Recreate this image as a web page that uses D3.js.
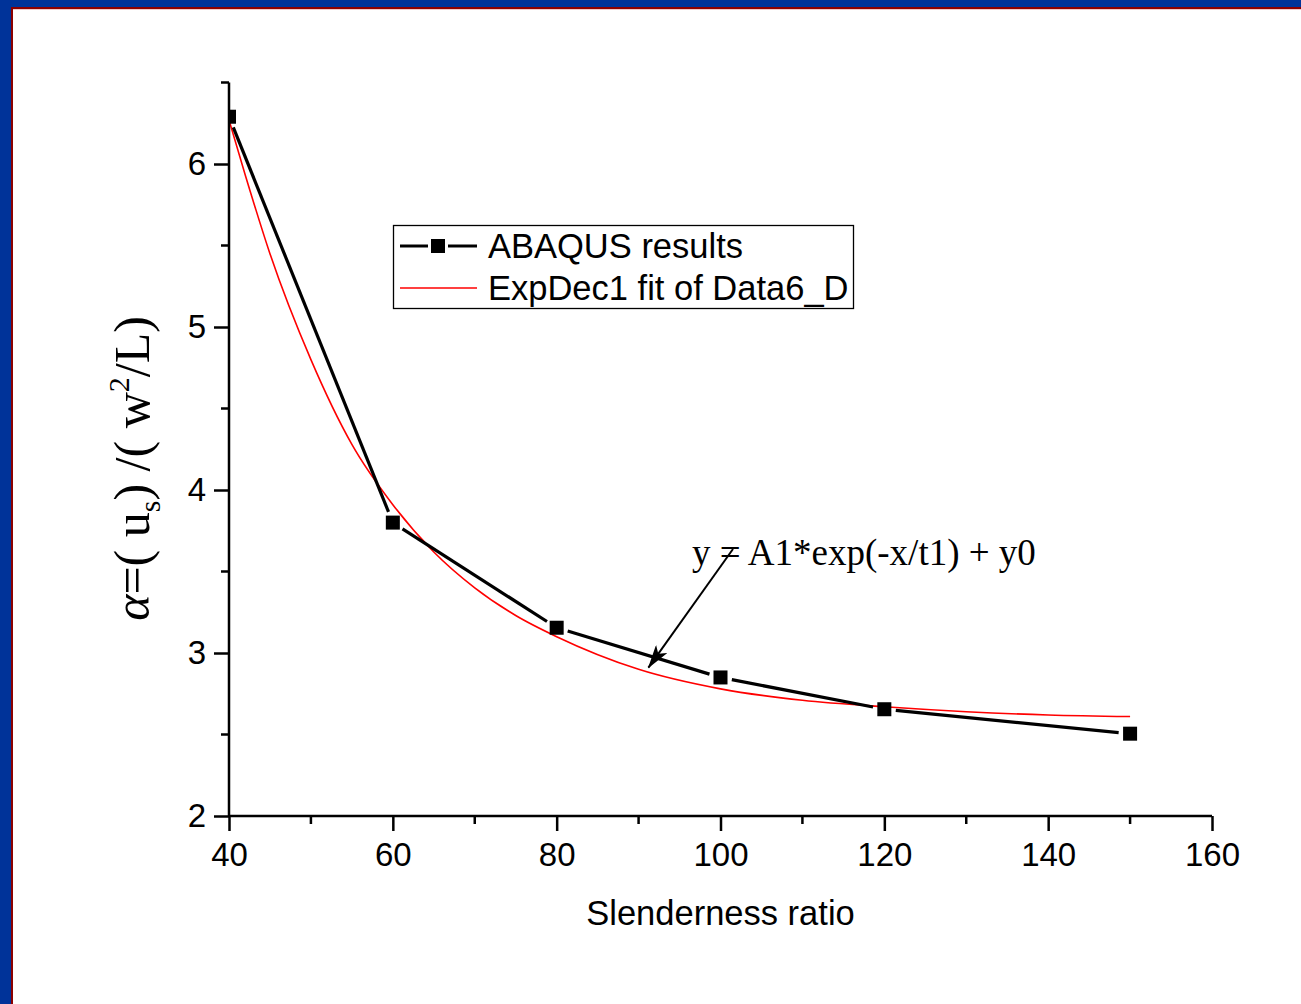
<!DOCTYPE html>
<html>
<head>
<meta charset="utf-8">
<script src="https://cdn.jsdelivr.net/npm/d3@7/dist/d3.min.js"></script>
<style>
  html, body { margin: 0; padding: 0; background: #fff; }
  svg { display: block; }
</style>
</head>
<body>
<svg id="chart" width="1301" height="1004"></svg>
<script>
// ABAQUS results: slenderness ratio vs. alpha
const slenderness = [40, 60, 80, 100, 120, 150];
const alphaValues = [6.29, 3.80, 3.155, 2.85, 2.655, 2.505];

// Exponential-decay fit curve, sampled along the slenderness axis
const fitX = [40, 42, 45, 50, 55, 60, 65, 70, 75, 80, 90, 100, 110, 120, 130, 140, 150];
const fitY = [6.27, 5.93, 5.45, 4.80, 4.28, 3.91, 3.62, 3.40, 3.23, 3.10, 2.90, 2.78, 2.71, 2.67, 2.64, 2.62, 2.61];

// Axis ticks
const xMajorTicks = [40, 60, 80, 100, 120, 140, 160];
const xMinorTicks = [50, 70, 90, 110, 130, 150];
const yMajorTicks = [2, 3, 4, 5, 6];
const yMinorTicks = [2.5, 3.5, 4.5, 5.5, 6.5];

const legendLabels = ["ABAQUS results", "ExpDec1 fit of Data6_D"];
const fitEquation = "y = A1*exp(-x/t1) + y0";
const xTitle = "Slenderness ratio";

const svg = d3.select("#chart");
const W = 1301, H = 1004;

// page frame
svg.append("rect").attr("width", W).attr("height", H).attr("fill", "#003399");
svg.append("rect").attr("x", 11).attr("y", 7).attr("width", W - 11).attr("height", H - 7).attr("fill", "#8b0000");
svg.append("rect").attr("x", 13).attr("y", 9).attr("width", W - 13).attr("height", H - 9).attr("fill", "#f3c8c8");
svg.append("rect").attr("x", 13).attr("y", 10).attr("width", W - 13).attr("height", H - 10).attr("fill", "#ffffff");

const x = d3.scaleLinear().domain([40, 160]).range([229, 1212]);
const y = d3.scaleLinear().domain([2, 6.5]).range([816, 82.5]);

const sans = "'Liberation Sans', Arial, Helvetica, sans-serif";
const serif = "'Liberation Serif', 'Times New Roman', Times, serif";

// clip for the plotting area
svg.append("defs").append("clipPath").attr("id", "plotClip")
  .append("rect")
  .attr("x", x(40)).attr("y", y(6.5) - 20)
  .attr("width", x(160) - x(40)).attr("height", y(2) - y(6.5) + 20);

const plot = svg.append("g").attr("clip-path", "url(#plotClip)");

// fit curve
const fitPts = fitX.map((v, i) => [v, fitY[i]]);
plot.append("path")
  .datum(fitPts)
  .attr("fill", "none")
  .attr("stroke", "#ff0000")
  .attr("stroke-width", 1.6)
  .attr("d", d3.line().x(d => x(d[0])).y(d => y(d[1])).curve(d3.curveMonotoneX));

// data line: segments between markers, leaving a small gap around each symbol
const pts = slenderness.map((v, i) => [x(v), y(alphaValues[i])]);
const gap = 11.5;
const segs = d3.pairs(pts).map(([a, b]) => {
  const dx = b[0] - a[0], dy = b[1] - a[1];
  const len = Math.hypot(dx, dy);
  const ux = dx / len, uy = dy / len;
  return [a[0] + ux * gap, a[1] + uy * gap, b[0] - ux * gap, b[1] - uy * gap];
});
plot.selectAll("line.seg").data(segs).join("line")
  .attr("class", "seg")
  .attr("x1", d => d[0]).attr("y1", d => d[1])
  .attr("x2", d => d[2]).attr("y2", d => d[3])
  .attr("stroke", "#000").attr("stroke-width", 3.2);

const ms = 14;
plot.selectAll("rect.mk").data(slenderness).join("rect")
  .attr("class", "mk")
  .attr("x", d => x(d) - ms / 2)
  .attr("y", (d, i) => y(alphaValues[i]) - ms / 2)
  .attr("width", ms).attr("height", ms)
  .attr("fill", "#000");

// axes
const axisG = svg.append("g");
const xAxis = axisG.append("g").attr("transform", `translate(0,${y(2)})`)
  .call(d3.axisBottom(x).tickValues(xMajorTicks).tickFormat(d3.format("d"))
    .tickSize(15).tickSizeOuter(0).tickPadding(12));
xAxis.append("g").selectAll("line").data(xMinorTicks).join("line")
  .attr("x1", d => x(d)).attr("x2", d => x(d)).attr("y1", 0).attr("y2", 8)
  .attr("stroke", "#000").attr("stroke-width", 2.5);

const yAxis = axisG.append("g").attr("transform", `translate(${x(40)},0)`)
  .call(d3.axisLeft(y).tickValues(yMajorTicks).tickFormat(d3.format("d"))
    .tickSize(15).tickSizeOuter(0).tickPadding(8));
yAxis.append("g").selectAll("line").data(yMinorTicks).join("line")
  .attr("x1", 0).attr("x2", -8).attr("y1", d => y(d)).attr("y2", d => y(d))
  .attr("stroke", "#000").attr("stroke-width", 2.5);

[xAxis, yAxis].forEach(g => {
  g.select(".domain").attr("stroke", "#000").attr("stroke-width", 2.5);
  g.selectAll(".tick line").attr("stroke", "#000").attr("stroke-width", 2.5);
  g.selectAll(".tick text").attr("fill", "#000").style("font-family", sans).style("font-size", "33px");
});
// y axis line extends to the top minor tick
yAxis.select(".domain").attr("d", `M0,${y(2)}V${y(6.5)}`);
xAxis.select(".domain").attr("d", `M${x(40)},0H${x(160)}`);

// x title
svg.append("text")
  .attr("x", x(100)).attr("y", 925)
  .attr("text-anchor", "middle")
  .style("font-family", sans).style("font-size", "34.5px")
  .text(xTitle);

// y title (rotated)
const yt = svg.append("text")
  .attr("transform", `translate(149,${(315 + 622) / 2}) rotate(-90)`)
  .attr("text-anchor", "middle")
  .style("font-family", serif).style("font-size", "50px");
yt.append("tspan").style("font-style", "italic").text("α");
yt.append("tspan").text("=( u");
yt.append("tspan").attr("dy", 11).style("font-size", "30px").text("s");
yt.append("tspan").attr("dy", -11).text(") /( w");
yt.append("tspan").attr("dy", -20).style("font-size", "30px").text("2");
yt.append("tspan").attr("dy", 20).text("/L)");

// legend
const lg = svg.append("g");
lg.append("rect").attr("x", 393.5).attr("y", 225.5).attr("width", 460).attr("height", 83)
  .attr("fill", "#fff").attr("stroke", "#000").attr("stroke-width", 1.3);
const ly1 = 246, ly2 = 288;
lg.append("line").attr("x1", 400).attr("x2", 428).attr("y1", ly1).attr("y2", ly1).attr("stroke", "#000").attr("stroke-width", 3);
lg.append("line").attr("x1", 448).attr("x2", 477).attr("y1", ly1).attr("y2", ly1).attr("stroke", "#000").attr("stroke-width", 3);
lg.append("rect").attr("x", 431).attr("y", ly1 - 7).attr("width", 14).attr("height", 14).attr("fill", "#000");
lg.append("line").attr("x1", 400).attr("x2", 477).attr("y1", ly2).attr("y2", ly2).attr("stroke", "#ff0000").attr("stroke-width", 1.4);
lg.selectAll("text").data(legendLabels).join("text")
  .attr("x", 488).attr("y", (d, i) => [ly1, ly2][i] + 12)
  .style("font-family", sans).style("font-size", "34.5px")
  .text(d => d);

// fit equation with arrow
const defs = svg.select("defs");
defs.append("marker").attr("id", "arrowHead")
  .attr("viewBox", "0 0 24 14").attr("refX", 23).attr("refY", 7)
  .attr("markerWidth", 24).attr("markerHeight", 14).attr("markerUnits", "userSpaceOnUse")
  .attr("orient", "auto")
  .append("path").attr("d", "M0,0 L24,7 L0,14 L6,7 Z").attr("fill", "#000");

svg.append("text")
  .attr("x", 692).attr("y", 565)
  .style("font-family", serif).style("font-size", "37px")
  .text(fitEquation);

svg.append("line")
  .attr("x1", 733).attr("y1", 549)
  .attr("x2", x(91.2)).attr("y2", y(2.91))
  .attr("stroke", "#000").attr("stroke-width", 2)
  .attr("marker-end", "url(#arrowHead)");
</script>
</body>
</html>
